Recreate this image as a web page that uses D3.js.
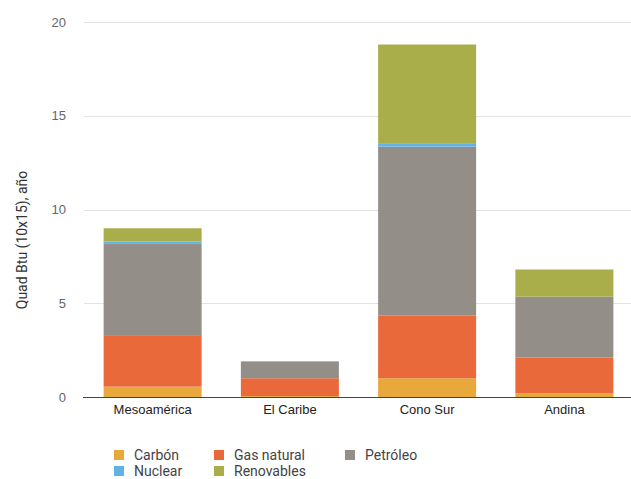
<!DOCTYPE html>
<html>
<head>
<meta charset="utf-8">
<script src="https://cdn.jsdelivr.net/npm/d3@7"></script>
<style>
  body { margin: 0; background: #fff; }
  svg { font-family: Roboto, "Noto Sans", sans-serif; }
</style>
</head>
<body>
<svg id="chart" width="631" height="479"></svg>
<script>
// data (Quad Btu per year)
var regions = ["Mesoamérica", "El Caribe", "Cono Sur", "Andina"];
var carbon = [0.55, 0.05, 1.0, 0.2];
var gasNatural = [2.75, 0.95, 3.35, 1.9];
var petroleo = [4.9, 0.9, 9.0, 3.25];
var nuclear = [0.1, 0, 0.15, 0];
var renovables = [0.7, 0, 5.3, 1.45];
var yTicks = [0, 5, 10, 15, 20];

var seriesNames = ["Carbón", "Gas natural", "Petróleo", "Nuclear", "Renovables"];
var seriesColors = ["#e8a83c", "#e9693b", "#948e89", "#62b2e6", "#a9ae4a"];

var svg = d3.select("#chart");
var width = 631, height = 479;
var plot = {left: 84, right: 633, top: 22, bottom: 397};

// table for d3.stack
var rows = regions.map(function(r, i) {
    return {
        region: r,
        "Carbón": carbon[i],
        "Gas natural": gasNatural[i],
        "Petróleo": petroleo[i],
        "Nuclear": nuclear[i],
        "Renovables": renovables[i]
    };
});
var stacked = d3.stack().keys(seriesNames)(rows);

var x = d3.scaleBand()
    .domain(regions)
    .range([plot.left, plot.right])
    .paddingInner(0.286)
    .paddingOuter(0.143);

var y = d3.scaleLinear()
    .domain([0, 20])
    .range([plot.bottom, plot.top]);

var color = d3.scaleOrdinal().domain(seriesNames).range(seriesColors);

// grid lines
svg.append("g")
    .selectAll("line")
    .data(yTicks.filter(function(t){ return t > 0; }))
    .enter()
    .append("line")
    .attr("x1", plot.left)
    .attr("x2", width)
    .attr("y1", function(d){ return Math.round(y(d)) + 0.5; })
    .attr("y2", function(d){ return Math.round(y(d)) + 0.5; })
    .style("stroke", "#e2e2e2")
    .style("stroke-width", 1);

// y axis labels
var yAxis = d3.axisLeft(y).tickValues(yTicks).tickSize(0).tickPadding(18);
var gY = svg.append("g")
    .attr("transform", "translate(" + plot.left + ",0)")
    .call(yAxis);
gY.select(".domain").remove();
gY.selectAll("text")
    .style("font-size", "13px")
    .style("fill", "#666");

// stacked bars
svg.append("g")
    .selectAll("g.layer")
    .data(stacked)
    .enter()
    .append("g")
    .attr("class", "layer")
    .style("fill", function(d){ return color(d.key); })
    .selectAll("rect")
    .data(function(d){ return d; })
    .enter()
    .append("rect")
    .attr("x", function(d){ return x(d.data.region); })
    .attr("width", x.bandwidth())
    .attr("y", function(d){ return y(d[1]); })
    .attr("height", function(d){ return y(d[0]) - y(d[1]); });

// x axis
var xAxis = d3.axisBottom(x).tickSize(0).tickPadding(8);
var gX = svg.append("g")
    .attr("transform", "translate(0," + plot.bottom + ")")
    .call(xAxis);
gX.select(".domain")
    .attr("d", "M" + (plot.left - 1) + ",0.5H" + width)
    .style("stroke", "#444");
gX.selectAll("text")
    .style("font-size", "13px")
    .style("font-weight", "500")
    .style("fill", "#222");

// y title
svg.append("text")
    .attr("transform", "translate(22,240) rotate(-90)")
    .attr("text-anchor", "middle")
    .attr("dy", "0.35em")
    .style("font-size", "14px")
    .style("fill", "#333")
    .text("Quad Btu (10x15), año");

// legend, two rows
var legendPos = [
    {x: 114, y: 455}, {x: 214, y: 455}, {x: 345, y: 455},
    {x: 114, y: 471}, {x: 214, y: 471}
];
var legend = svg.append("g")
    .selectAll("g")
    .data(seriesNames)
    .enter()
    .append("g")
    .attr("transform", function(d, i){ return "translate(" + legendPos[i].x + "," + legendPos[i].y + ")"; });
legend.append("rect")
    .attr("x", 0)
    .attr("y", -5)
    .attr("width", 10)
    .attr("height", 10)
    .style("fill", function(d){ return color(d); });
legend.append("text")
    .attr("x", 20)
    .attr("dy", "0.35em")
    .style("font-size", "14px")
    .style("fill", "#444")
    .text(function(d){ return d; });
</script>
</body>
</html>
